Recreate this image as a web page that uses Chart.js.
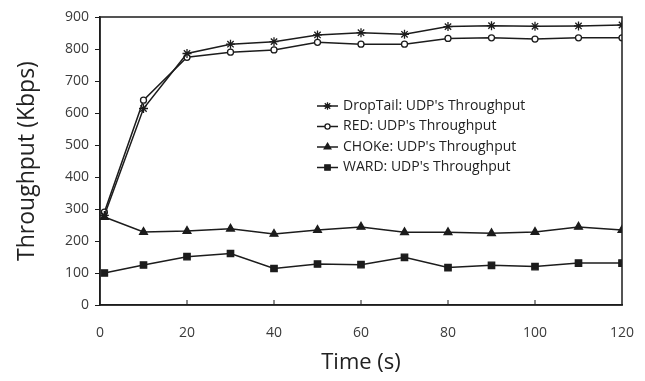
<!DOCTYPE html>
<html>
<head>
<meta charset="utf-8">
<script src="https://cdn.jsdelivr.net/npm/chart.js@4.4.1/dist/chart.umd.min.js"></script>
<style>
html,body{margin:0;padding:0;background:#fff;}
#wrap{width:645px;height:381px;position:relative;}
</style>
</head>
<body>
<div id="wrap"><canvas id="c" width="645" height="381"></canvas></div>
<script>
const times = [1, 10, 20, 30, 40, 50, 60, 70, 80, 90, 100, 110, 120];
const dropTail = [280, 614, 786, 815, 823, 844, 851, 846, 870, 873, 871, 872, 875];
const red = [290, 640, 774, 790, 797, 821, 815, 815, 833, 835, 831, 835, 835];
const choke = [275, 228, 231, 238, 222, 234, 244, 227, 227, 224, 228, 244, 234];
const ward = [100, 125, 151, 161, 114, 128, 126, 149, 117, 124, 120, 131, 131];
const seriesLabels = ["DropTail: UDP's Throughput", "RED: UDP's Throughput", "CHOKe: UDP's Throughput", "WARD: UDP's Throughput"];
const xTicks = [0, 20, 40, 60, 80, 100, 120];
const yTicks = [0, 100, 200, 300, 400, 500, 600, 700, 800, 900];

const INK = '#1c1c1c';
const TXT = '#3a3a3a';
const FONT = "'Open Sans', 'Noto Sans', sans-serif";

function pts(arr) { return arr.map((v, i) => ({ x: times[i], y: v })); }

const styles = [
  { pointStyle: 'star', radius: 4.5, bg: INK },
  { pointStyle: 'circle', radius: 3, bg: '#ffffff' },
  { pointStyle: 'triangle', radius: 4.5, bg: INK },
  { pointStyle: 'rect', radius: 4.5, bg: INK }
];
const datas = [dropTail, red, choke, ward];

const datasets = datas.map((d, i) => ({
  label: seriesLabels[i],
  data: pts(d),
  borderColor: INK,
  borderWidth: 1.5,
  pointStyle: styles[i].pointStyle,
  pointRadius: styles[i].radius,
  pointBackgroundColor: styles[i].bg,
  pointBorderColor: INK,
  pointBorderWidth: 1.3,
  tension: 0,
  fill: false
}));

const framePlugin = {
  id: 'frame',
  afterDraw(chart) {
    const { ctx, chartArea: a, scales } = chart;
    ctx.save();
    ctx.strokeStyle = INK;
    ctx.lineWidth = 1.5;
    ctx.strokeRect(a.left, a.top, a.right - a.left, a.bottom - a.top);
    ctx.lineWidth = 1;
    xTicks.forEach(t => {
      if (t === 0 || t === 120) return;
      const px = scales.x.getPixelForValue(t);
      ctx.beginPath();
      ctx.moveTo(px, a.bottom);
      ctx.lineTo(px, a.bottom - 5);
      ctx.stroke();
    });
    ctx.restore();
  }
};

const legendPlugin = {
  id: 'insideLegend',
  afterDatasetsDraw(chart) {
    const { ctx, chartArea: a } = chart;
    const x0 = a.left + 217;
    const y0 = a.top + 89;
    const rowH = 20.5;
    ctx.save();
    chart.data.datasets.forEach((ds, i) => {
      const y = y0 + i * rowH;
      ctx.strokeStyle = INK;
      ctx.lineWidth = 1.5;
      ctx.beginPath();
      ctx.moveTo(x0, y);
      ctx.lineTo(x0 + 21, y);
      ctx.stroke();
      ctx.fillStyle = ds.pointBackgroundColor;
      ctx.strokeStyle = INK;
      ctx.lineWidth = 1.3;
      Chart.helpers.drawPoint(ctx, { pointStyle: ds.pointStyle, radius: ds.pointRadius * 0.85, rotation: 0, borderWidth: 1.3 }, x0 + 10.5, y);
      ctx.fillStyle = '#222';
      ctx.font = "14px " + FONT;
      ctx.textBaseline = 'middle';
      ctx.textAlign = 'left';
      ctx.fillText(ds.label, x0 + 26, y);
    });
    ctx.restore();
  }
};

new Chart(document.getElementById('c'), {
  type: 'line',
  data: { datasets },
  options: {
    responsive: false,
    animation: false,
    events: [],
    layout: { padding: { left: 14, right: 23, top: 17, bottom: 5 } },
    plugins: { legend: { display: false }, tooltip: { enabled: false } },
    scales: {
      x: {
        type: 'linear',
        min: 0, max: 120,
        afterBuildTicks(scale) { scale.ticks = xTicks.map(v => ({ value: v })); },
        afterFit(scale) { scale.height = 71; scale.paddingLeft = 0; scale.paddingRight = 0; },
        grid: { display: true, drawOnChartArea: false, drawTicks: false, color: INK },
        border: { display: true, color: INK, width: 1.5 },
        ticks: { color: TXT, font: { family: FONT, size: 14 }, padding: 20, maxRotation: 0, autoSkip: false },
        title: { display: true, text: 'Time (s)', color: '#222', font: { family: FONT, size: 22 }, padding: 0 }
      },
      y: {
        min: 0, max: 900,
        afterBuildTicks(scale) { scale.ticks = yTicks.map(v => ({ value: v })); },
        afterFit(scale) { scale.width = 86; scale.paddingTop = 0; scale.paddingBottom = 0; },
        grid: { display: true, drawOnChartArea: false, drawTicks: true, tickLength: 5, color: INK, tickColor: INK },
        border: { display: true, color: INK, width: 1.5 },
        ticks: { color: TXT, font: { family: FONT, size: 14 }, padding: 6 },
        title: { display: true, text: 'Throughput (Kbps)', color: '#222', font: { family: FONT, size: 23 }, padding: 0 }
      }
    }
  },
  plugins: [framePlugin, legendPlugin]
});
</script>
</body>
</html>
